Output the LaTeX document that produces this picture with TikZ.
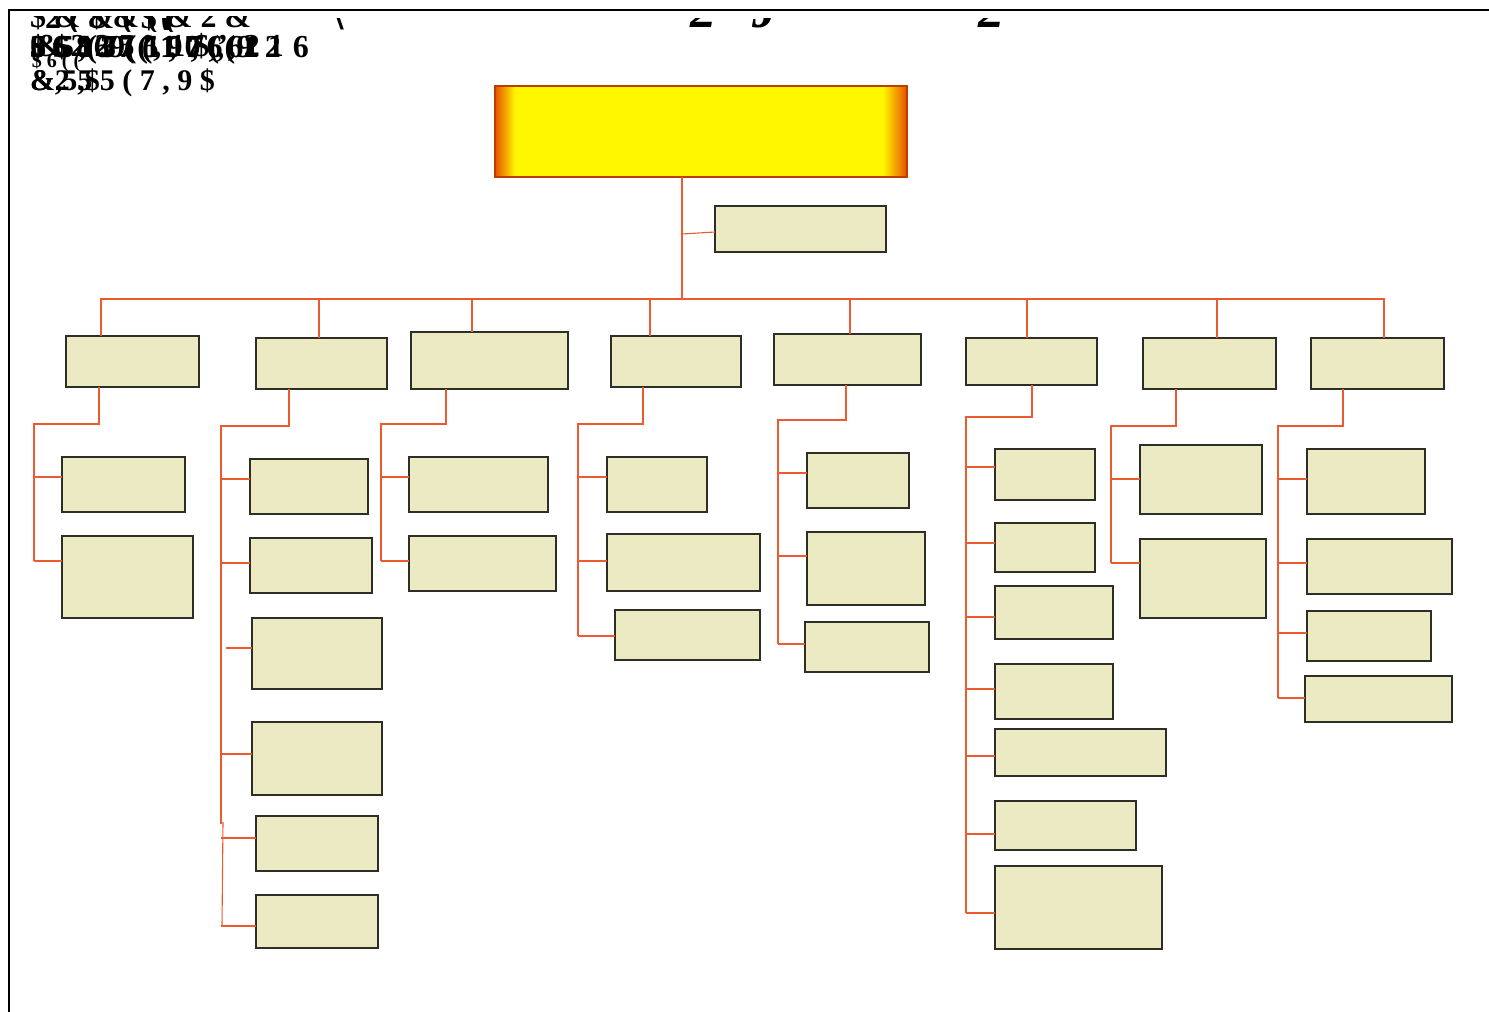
\documentclass[tikz,border=0pt]{standalone}
\usepackage{fontspec}
\setmainfont{Liberation Serif}
\usetikzlibrary{calc}
\definecolor{boxfill}{HTML}{ECEAC2}
\definecolor{boxline}{HTML}{2E2D26}
\definecolor{conncol}{HTML}{EC5A30}
\definecolor{topyel}{HTML}{FFF700}
\definecolor{toporg}{HTML}{E85000}
\tikzset{
  box/.style={draw=boxline, fill=boxfill, line width=0.6pt, inner sep=0pt, outer sep=0pt},
  conn/.style={draw=conncol, line width=0.55pt},
  garb/.style={inner sep=0pt, outer sep=0pt, anchor=base west, font=\fontsize{16}{16}\selectfont\bfseries},
  frag/.style={inner sep=0pt, outer sep=0pt, anchor=base west, font=\fontsize{26}{26}\selectfont\bfseries\itshape}
}
\newcommand\bx[5]{\node[box, minimum width={(#4-#2)*0.5pt}, minimum height={(#5-#3)*0.5pt}] (#1) at ({(#2+#4)/2},{(#3+#5)/2}) {};}
\newcommand\kid[3]{\draw[conn] (#1 |- 0,#3) -- (#2.west |- 0,#3);}
\newcommand\ws{\hspace{0.38em}}
\begin{document}
\begin{tikzpicture}[x=0.5pt,y=-0.5pt]
\useasboundingbox (0,0) rectangle (1489,1012);
% frame
\draw[line width=1pt] (9,1012) -- (9,10) -- (1489,10);
% clipped fragments of a hidden title row
\begin{scope}
\clip (12,16) rectangle (1489,31);
\node[garb] (ta) at (30,27) {\$ \& \$ \& ( \& 2 \&};
\node[garb] (tb) at (45,28) {2 ( \& ( \$ (};
\end{scope}
\begin{scope}
\clip (12,18) rectangle (1489,29);
\node[frag] (tc) at (690,27) {2};
\node[frag] (td) at (752,27) {J};
\node[frag] (te) at (978,27) {2};
\node[frag, font=\fontsize{24}{24}\selectfont\bfseries] (tf) at (330,29) {\textbackslash};
\node[frag, font=\fontsize{24}{24}\selectfont\bfseries] (tg) at (160,30) {(};
\end{scope}
% garbled heading text
\node[garb] (h1) at (30,57) {\$ 6 , 6 7 ( 1 7 ( 6};
\node[garb] (h2) at (30,57) {0 \$ 1 7 ( 1 , 0 , ( 1};
\node[garb] (h2b) at (36,56) {\& 2 2 5 ', 1 \$ ', 2 1};
\node[garb] (h2c) at (52,57) {6 8 3 ( 5 9 , 6};
\node[garb] (h3) at (30,57) {3\ws5\ws(\ws9\ws(\ws1\ws7\ws,\ws9\ws2\ws6};
\node[garb, font=\fontsize{10}{10}\selectfont\bfseries] (h4) at (32,67) {\$ 6 ( (};
\node[garb, font=\fontsize{15}{15}\selectfont\bfseries] (h5) at (30,90) {\&2 5 5 ( 7 , 9 \$};
\node[garb, font=\fontsize{15}{15}\selectfont\bfseries] (h6) at (30,90) {\&,5,\$};
% top box
\node[inner sep=0pt, outer sep=0pt, minimum width={412*0.5pt}, minimum height={91*0.5pt}, fill=topyel] (top) at (701,131.5) {};
\shade[left color=toporg, right color=topyel] (top.north west) rectangle ([xshift=10pt]top.south west);
\shade[left color=topyel, right color=toporg] ([xshift=-12pt]top.north east) rectangle (top.south east);
\draw[draw=toporg!80!black, line width=0.7pt] (top.north west) rectangle (top.south east);
% assistant
\bx{asst}{715}{206}{886}{252}
\coordinate (bus) at (0,299);
\draw[conn] (top.south -| 682,0) -- (bus -| 682,0);
\draw[conn] (682,234) -- (asst.west |- 0,232);
% level 1
\bx{c1}{66}{336}{199}{387}
\bx{c2}{256}{338}{387}{389}
\bx{c3}{411}{332}{568}{389}
\bx{c4}{611}{336}{741}{387}
\bx{c5}{774}{334}{921}{385}
\bx{c6}{966}{338}{1097}{385}
\bx{c7}{1143}{338}{1276}{389}
\bx{c8}{1311}{338}{1444}{389}
\draw[conn] (c1.north -| 101,0) -- (bus -| 101,0) -- (bus -| 1384,0) -- (c8.north -| 1384,0);
\draw[conn] (bus -| 319,0) -- (c2.north -| 319,0);
\draw[conn] (bus -| 472,0) -- (c3.north -| 472,0);
\draw[conn] (bus -| 650,0) -- (c4.north -| 650,0);
\draw[conn] (bus -| 850,0) -- (c5.north -| 850,0);
\draw[conn] (bus -| 1027,0) -- (c6.north -| 1027,0);
\draw[conn] (bus -| 1217,0) -- (c7.north -| 1217,0);
% column 1
\bx{g11}{62}{457}{185}{512}
\bx{g12}{62}{536}{193}{618}
\coordinate (v1) at (34,424);
\draw[conn] (c1.south -| 99,0) |- (v1) -- (v1 |- 0,561);
\kid{v1}{g11}{477}\kid{v1}{g12}{561}
% column 2
\bx{g21}{250}{459}{368}{514}
\bx{g22}{250}{538}{372}{593}
\bx{g23}{252}{618}{382}{689}
\bx{g24}{252}{722}{382}{795}
\bx{g25}{256}{816}{378}{871}
\bx{g26}{256}{895}{378}{948}
\coordinate (v2) at (221,426);
\draw[conn] (c2.south -| 289,0) |- (v2) -- (v2 |- 0,824);
\draw[conn] (223,822) -- (222,926);
\kid{v2}{g21}{479}\kid{v2}{g22}{563}\kid{v2}{g24}{754}\kid{v2}{g25}{838}\kid{v2}{g26}{926}
\draw[conn] (226,648) -- (g23.west |- 0,648);
% column 3
\bx{g31}{409}{457}{548}{512}
\bx{g32}{409}{536}{556}{591}
\coordinate (v3) at (381,424);
\draw[conn] (c3.south -| 446,0) |- (v3) -- (v3 |- 0,561);
\kid{v3}{g31}{477}\kid{v3}{g32}{561}
% column 4
\bx{g41}{607}{457}{707}{512}
\bx{g42}{607}{534}{760}{591}
\bx{g43}{615}{610}{760}{660}
\coordinate (v4) at (578,424);
\draw[conn] (c4.south -| 643,0) |- (v4) -- (v4 |- 0,636);
\kid{v4}{g41}{477}\kid{v4}{g42}{561}\kid{v4}{g43}{636}
% column 5
\bx{g51}{807}{453}{909}{508}
\bx{g52}{807}{532}{925}{605}
\bx{g53}{805}{622}{929}{672}
\coordinate (v5) at (778,420);
\draw[conn] (c5.south -| 846,0) |- (v5) -- (v5 |- 0,644);
\kid{v5}{g51}{473}\kid{v5}{g52}{556}\kid{v5}{g53}{644}
% column 6
\bx{g61}{995}{449}{1095}{500}
\bx{g62}{995}{523}{1095}{572}
\bx{g63}{995}{586}{1113}{639}
\bx{g64}{995}{664}{1113}{719}
\bx{g65}{995}{729}{1166}{776}
\bx{g66}{995}{801}{1136}{850}
\bx{g67}{995}{866}{1162}{949}
\coordinate (v6) at (966,417);
\draw[conn] (c6.south -| 1032,0) |- (v6) -- (v6 |- 0,913);
\kid{v6}{g61}{467}\kid{v6}{g62}{543}\kid{v6}{g63}{617}\kid{v6}{g64}{689}\kid{v6}{g65}{756}\kid{v6}{g66}{834}\kid{v6}{g67}{913}
% column 7
\bx{g71}{1140}{445}{1262}{514}
\bx{g72}{1140}{539}{1266}{618}
\coordinate (v7) at (1111,426);
\draw[conn] (c7.south -| 1176,0) |- (v7) -- (v7 |- 0,563);
\kid{v7}{g71}{479}\kid{v7}{g72}{563}
% column 8
\bx{g81}{1307}{449}{1425}{514}
\bx{g82}{1307}{539}{1452}{594}
\bx{g83}{1307}{611}{1431}{661}
\bx{g84}{1305}{676}{1452}{722}
\coordinate (v8) at (1278,426);
\draw[conn] (c8.south -| 1343,0) |- (v8) -- (v8 |- 0,698);
\kid{v8}{g81}{479}\kid{v8}{g82}{563}\kid{v8}{g83}{633}\kid{v8}{g84}{698}
\end{tikzpicture}
\end{document}
